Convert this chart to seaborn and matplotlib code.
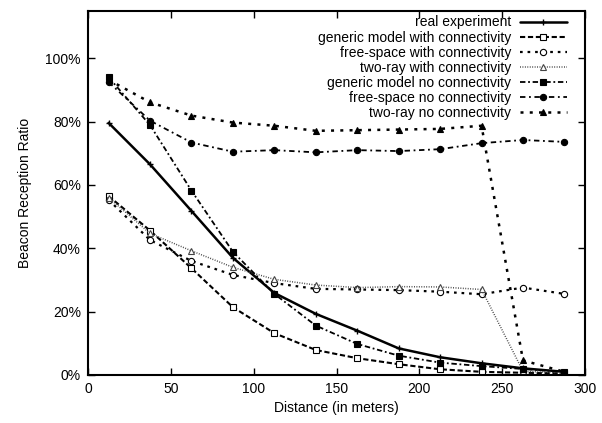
import matplotlib
matplotlib.use("Agg")
import matplotlib.pyplot as plt
import seaborn as sns
import numpy as np
import pandas as pd
from matplotlib.ticker import PercentFormatter, MultipleLocator

distance = [12.5, 37.5, 62.5, 87.5, 112.5, 137.5, 162.5, 187.5, 212.5, 237.5, 262.5, 287.5]

real_experiment = [0.796, 0.665, 0.518, 0.370, 0.259, 0.193, 0.140, 0.084, 0.056, 0.037, 0.021, 0.010]
generic_with = [0.565, 0.456, 0.337, 0.214, 0.132, 0.079, 0.053, 0.034, 0.018, 0.010, 0.007, 0.005]
freespace_with = [0.553, 0.426, 0.360, 0.316, 0.290, 0.272, 0.270, 0.268, 0.263, 0.255, 0.276, 0.256]
tworay_with = [0.560, 0.447, 0.392, 0.340, 0.302, 0.284, 0.276, 0.279, 0.278, 0.270, 0.012, 0.006]
generic_no = [0.940, 0.789, 0.582, 0.389, 0.256, 0.156, 0.098, 0.061, 0.039, 0.028, 0.019, 0.010]
freespace_no = [0.925, 0.803, 0.734, 0.705, 0.710, 0.703, 0.710, 0.707, 0.713, 0.732, 0.742, 0.736]
tworay_no = [0.932, 0.861, 0.819, 0.797, 0.787, 0.771, 0.773, 0.775, 0.777, 0.787, 0.046, 0.010]

labels = ["real experiment", "generic model with connectivity", "free-space with connectivity",
          "two-ray with connectivity", "generic model no connectivity",
          "free-space no connectivity", "two-ray no connectivity"]
series = [real_experiment, generic_with, freespace_with, tworay_with, generic_no, freespace_no, tworay_no]

styles = [
    dict(ls="-", lw=1.8, marker="+", ms=5, mfc="black", color="black", mew=1.0),
    dict(ls=(0, (2.5, 1.3)), lw=1.5, marker="s", ms=4.5, mfc="white", color="black", mew=0.8),
    dict(ls=(0, (1.2, 2.2)), lw=1.6, marker="o", ms=4.5, mfc="white", color="black", mew=0.8),
    dict(ls=(0, (0.6, 1.0)), lw=1.1, marker="^", ms=4.5, mfc="white", color="#444444", mew=0.8),
    dict(ls=(0, (3, 1.5, 1, 1.5)), lw=1.3, marker="s", ms=5, mfc="black", color="black", mew=0.8),
    dict(ls=(0, (3, 2, 1, 2)), lw=1.3, marker="o", ms=4.5, mfc="black", color="black", mew=0.8),
    dict(ls=(0, (1.2, 2.5)), lw=1.8, marker="^", ms=4.5, mfc="black", color="black", mew=0.8),
]

sns.set_style("ticks", {"axes.edgecolor": "black", "text.color": "black",
                        "axes.labelcolor": "black", "xtick.color": "black", "ytick.color": "black"})
plt.rcParams['font.family'] = ['Liberation Sans', 'DejaVu Sans']

fig = plt.figure(figsize=(6.02, 4.23), dpi=100)
ax = fig.add_axes([0.146, 0.1135, 0.826, 0.861])

for lab, vals, st in zip(labels, series, styles):
    df = pd.DataFrame({"Distance": distance, "Ratio": vals})
    sns.lineplot(data=df, x="Distance", y="Ratio", ax=ax, label=lab,
                 linestyle=st["ls"], linewidth=st["lw"], color=st["color"],
                 marker=st["marker"], markersize=st["ms"], markerfacecolor=st["mfc"],
                 markeredgecolor=st["color"], markeredgewidth=st["mew"])

ax.set_xlim(0, 300)
ax.set_ylim(0, 1.15)
ax.xaxis.set_major_locator(MultipleLocator(50))
ax.set_yticks([0, 0.2, 0.4, 0.6, 0.8, 1.0])
ax.yaxis.set_major_formatter(PercentFormatter(1.0, decimals=0))
ax.tick_params(direction="in", top=True, right=True, length=5, width=1, labelsize=10, pad=5,
               colors="black")
for s in ax.spines.values():
    s.set_linewidth(1.5)
    s.set_visible(True)
    s.set_color("black")
ax.set_xlabel("Distance (in meters)", fontsize=10, color="black")
ax.set_ylabel("Beacon Reception Ratio", fontsize=10, labelpad=10, color="black")

leg = ax.legend(loc="upper right", bbox_to_anchor=(0.98, 1.01), frameon=False, markerfirst=False,
                fontsize=10, handlelength=3.4, labelspacing=0.08, handletextpad=0.6, borderaxespad=0.2)
for t in leg.get_texts():
    t.set_color("black")

fig.savefig("out.png", dpi=100)
